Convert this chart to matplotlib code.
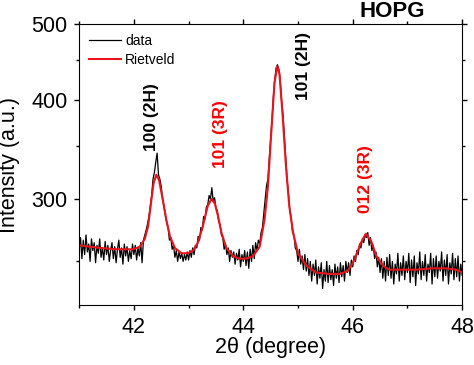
import numpy as np
import matplotlib
matplotlib.use("Agg")
import matplotlib.pyplot as plt
from matplotlib.ticker import FixedLocator, NullFormatter, FixedFormatter

plt.rcParams['font.family'] = ['Liberation Sans', 'DejaVu Sans']

# measured XRD pattern, 0.025 deg steps from 41 to 48
data_y = [
    258, 268, 252, 266, 255, 270, 257, 263, 250, 267,
    258, 264, 249, 262, 256, 267, 253, 260, 251, 265,
    255, 262, 250, 258, 264, 252, 261, 249, 259, 266,
    253, 260, 248, 263, 254, 261, 250, 258, 252, 263,
    # 42.0
    255, 262, 251, 260, 254, 264, 249, 266, 270, 274,
    279, 285, 294, 303, 318, 324, 334, 343, 322, 318,
    311, 300, 294, 286, 280, 276, 266, 268, 259, 262,
    253, 258, 250, 257, 252, 256, 250, 255, 251, 257,
    # 43.0
    251, 258, 253, 260, 255, 262, 260, 269, 266, 276,
    274, 285, 283, 293, 295, 303, 300, 310, 298, 301,
    292, 290, 281, 278, 270, 268, 259, 263, 255, 260,
    250, 258, 253, 257, 248, 256, 251, 259, 246, 255,
    # 44.0
    250, 258, 247, 257, 245, 259, 250, 262, 252, 264,
    258, 266, 263, 272, 276, 288, 300, 312, 318, 338,
    358, 378, 405, 425, 440, 444, 438, 425, 400, 384,
    360, 336, 318, 305, 290, 284, 272, 270, 260, 258,
    # 45.0
    250, 259, 248, 254, 244, 255, 243, 252, 240, 250,
    236, 248, 240, 251, 234, 246, 238, 249, 231, 244,
    236, 250, 235, 247, 237, 244, 233, 248, 238, 246,
    235, 249, 239, 247, 236, 250, 242, 249, 240, 251,
    # 46.0
    246, 254, 250, 258, 255, 263, 260, 267, 264, 270,
    268, 272, 262, 268, 258, 262, 252, 257, 246, 253,
    242, 252, 238, 250, 236, 253, 240, 255, 238, 250,
    234, 248, 241, 256, 236, 249, 240, 254, 237, 250,
    # 47.0
    242, 256, 235, 251, 239, 254, 233, 249, 241, 257,
    237, 250, 240, 255, 236, 248, 242, 256, 234, 252,
    239, 254, 238, 250, 243, 257, 236, 251, 240, 255,
    234, 249, 241, 256, 237, 252, 239, 254, 236, 248,
    240,
]
data_x = np.linspace(41, 48, len(data_y))

# Rietveld fit
fit_x = [41.00, 41.38, 41.68, 41.99, 42.11, 42.20, 42.26, 42.32, 42.36, 42.41,
         42.46, 42.53, 42.59, 42.66, 42.75, 42.87, 42.99, 43.08, 43.17, 43.26,
         43.35, 43.42, 43.48, 43.54, 43.60, 43.69, 43.81, 43.93, 44.05, 44.18,
         44.30, 44.39, 44.45, 44.51, 44.57, 44.62, 44.66, 44.72, 44.78, 44.84,
         44.91, 45.00, 45.15, 45.33, 45.57, 45.76, 45.91, 46.03, 46.15, 46.24,
         46.34, 46.43, 46.55, 46.67, 46.85, 47.16, 47.46, 47.70, 47.89, 48.00]
fit_y = [262, 260, 259, 259, 261, 267, 277, 299, 314, 322,
         317, 299, 283, 269, 260, 256, 256, 258, 264, 277,
         294, 300, 296, 285, 272, 260, 254, 252, 252, 254,
         261, 283, 311, 363, 421, 442, 433, 382, 330, 294,
         272, 256, 247, 242, 241, 241, 243, 251, 264, 271,
         265, 254, 247, 244, 244, 244, 245, 245, 244, 242]

peak_labels = ['100 (2H)', '101 (3R)', '101 (2H)', '012 (3R)']
peak_x = [42.32, 43.58, 45.10, 46.23]
peak_y = [381, 363, 443, 318]
peak_colors = ['black', 'red', 'black', 'red']

fig = plt.figure(figsize=(4.74, 3.65), dpi=100)
ax = fig.add_axes([0.167, 0.164, 0.808, 0.770])

ax.plot(data_x, data_y, color='black', lw=0.9, label='data')
ax.plot(fit_x, fit_y, color='#e8141c', lw=1.5, label='Rietveld')

ax.set_yscale('log')
ax.set_xlim(41, 48)
ax.set_ylim(220, 500)

ax.yaxis.set_major_locator(FixedLocator([300, 400, 500]))
ax.yaxis.set_major_formatter(FixedFormatter(['300', '400', '500']))
ax.yaxis.set_minor_locator(FixedLocator([250, 350, 450]))
ax.yaxis.set_minor_formatter(NullFormatter())
ax.set_xticks([42, 44, 46, 48])
ax.set_xticks([41, 43, 45, 47], minor=True)

ax.tick_params(which='both', direction='out', top=True, right=True, labelsize=15.5, pad=5)
ax.tick_params(which='major', length=3.4, width=1)
ax.tick_params(which='minor', length=2.2, width=1)

ax.set_xlabel('2θ (degree)', fontsize=15.5)
ax.set_ylabel('Intensity (a.u.)', fontsize=15.5)
ax.xaxis.set_label_coords(0.5, -0.114)
ax.yaxis.set_label_coords(-0.155, 0.5)

for lab, px, py, c in zip(peak_labels, peak_x, peak_y, peak_colors):
    ax.text(px, py, lab, rotation=90, ha='center', va='center',
            fontsize=12.5, fontweight='bold', color=c)

fig.text(392 / 474, 1 - 16.7 / 365, 'HOPG', ha='center', va='baseline',
         fontsize=16, fontweight='bold')

ax.legend(loc='upper left', frameon=False, fontsize=10, handlelength=2.3,
          handletextpad=0.3, labelspacing=0.35, borderaxespad=0.3,
          bbox_to_anchor=(0.0, 1.0))

fig.savefig('out.png', dpi=100)
